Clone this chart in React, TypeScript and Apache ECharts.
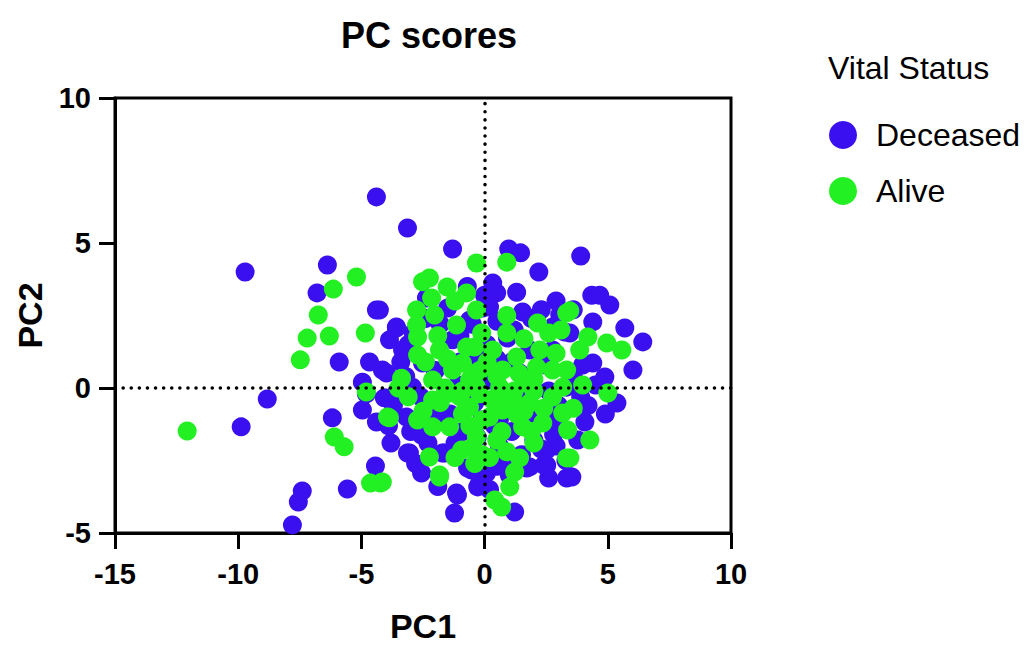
import React, { useEffect, useRef } from "react";
import * as echarts from "echarts";

const chartTitle = "PC scores";
const legendTitle = "Vital Status";
const seriesNames = ["Deceased", "Alive"];
const xTicks = { min: -15, max: 10, interval: 5 };
const yTicks = { min: -5, max: 10, interval: 5 };

const deceased: number[][] = [
  [-4.39, 6.59], [-3.13, 5.52], [-9.72, 4.0], [-6.38, 4.24], [-6.8, 3.28], [-4.39, 2.69],
  [-5.9, 0.9], [-8.82, -0.38], [-9.88, -1.34], [-6.18, -1.03], [-4.43, -2.69], [-5.57, -3.48],
  [-7.4, -3.55], [-7.56, -3.93], [-7.8, -4.72], [-3.13, -2.24], [-2.56, -2.93], [-1.14, -3.62],
  [-1.22, -4.31], [-1.63, -2.24], [-3.58, 2.1], [-3.86, 1.66], [-4.67, 0.9], [-3.98, 0.52],
  [-4.96, 0.2], [-4.96, -0.76], [-4.39, -1.17], [-4.07, -0.34], [-1.3, 4.79], [0.98, 4.79],
  [1.46, 4.66], [2.2, 4.0], [3.9, 4.55], [4.35, 3.2], [4.67, 3.2], [5.08, 2.86],
  [0.33, 3.62], [0.49, 3.28], [1.54, 2.62], [0.2, 2.79], [5.69, 2.07], [6.42, 1.59],
  [6.02, 0.62], [3.05, 2.52], [5.37, -0.52], [3.54, -3.07], [1.22, -4.28], [1.71, -2.76],
  [2.4, -2.66], [0.93, 1.72], [-0.08, 2.76], [4.39, 2.28], [3.46, 1.9], [2.76, 2.1],
  [3.25, 1.93], [4.39, 0.86], [3.98, 0.79], [4.88, 0.38], [3.33, 0.03], [3.9, -0.31],
  [2.93, -1.0], [4.07, -1.17], [3.78, -1.79], [2.52, -2.14], [2.52, -2.66], [1.83, -2.72],
  [0.89, -2.38], [3.33, -3.1], [0.08, -2.93], [-0.2, -3.28], [-0.53, -2.83], [-0.12, -1.1],
  [-1.5, 2.76], [-4.27, 2.69], [-2.36, 3.1], [-3.58, 2.07], [-0.61, 2.34], [-1.3, 1.66],
  [-3.33, 1.31], [-2.52, 0.86], [-4.15, 0.62], [-2.93, 0.03], [-1.56, -0.17], [-3.05, -2.24],
  [-1.71, -2.24], [-0.69, -2.76], [-1.1, -3.69], [-0.28, -3.41], [-2.56, -1.62], [-3.17, -1.0],
  [-0.2, 0.62], [0.2, 0.28], [1.42, 0.52], [1.95, 0.17], [2.76, 1.31], [1.83, 1.31],
  [2.2, -0.9], [1.1, -1.5], [0.6, -2.0], [-0.9, -1.5], [-2.0, 0.6], [-1.0, 0.9],
  [0.5, 1.0], [-0.4, -0.5], [1.6, -0.3], [2.6, -0.1], [3.0, -0.6], [-2.2, -0.5],
  [-3.7, -0.6], [-0.5, 2.2], [-4.8, -0.2], [1.0, -3.0], [2.0, -1.8], [-1.9, -3.4],
  [-3.4, 0.9], [-2.9, 1.9], [-1.8, 2.2], [0.1, 1.5], [1.2, 2.0], [2.3, 2.7],
  [-3.0, -1.5], [-2.3, -1.9], [-1.4, -0.9], [0.4, -1.3], [1.7, -1.1], [2.8, -1.6],
  [-0.7, 3.5], [4.9, -0.9], [3.3, -2.5], [-3.8, -1.9], [0.9, -0.6], [-1.1, 0.1],
  [-3.6, -0.2], [-3.2, 0.4], [-2.6, -0.3], [-2.0, -1.1], [-1.2, -1.9], [-0.3, -1.7],
  [0.6, -1.1], [1.5, -2.3], [2.3, -2.1], [2.9, -2.0], [0.2, -3.5], [1.9, 2.4],
  [0.5, 2.3], [-0.3, 1.1], [1.1, 0.9], [2.4, 0.8], [3.6, 0.4], [4.2, -0.6],
  [-2.4, 2.4], [-3.1, 1.5], [-1.0, 1.8], [0.0, 3.2], [1.3, 3.3], [3.6, 2.7],
  [2.9, 3.0], [-3.9, -1.3], [-2.8, -2.6], [0.5, -2.7], [2.6, -3.1], [4.5, 0.1],
];

const alive: number[][] = [
  [-12.07, -1.48], [-7.48, 0.97], [-7.2, 1.72], [-6.75, 2.52], [-6.3, 1.79], [-4.84, 1.9],
  [-6.1, -1.69], [-5.7, -2.03], [-4.63, -3.28], [-4.23, -3.28], [-4.8, -0.14], [-3.94, -1.0],
  [-2.24, -2.38], [-1.83, -3.0], [-6.14, 3.41], [-5.2, 3.83], [-0.33, 4.31], [-2.52, 3.66],
  [-2.24, 3.79], [-1.52, 3.48], [-0.73, 3.28], [-2.15, 3.1], [-2.76, 2.69], [-2.03, 2.52],
  [-2.76, 2.17], [-1.14, 2.17], [-2.72, 1.76], [-1.83, 1.31], [-2.72, 1.14], [-0.73, 1.41],
  [-3.37, 0.34], [-2.11, 0.28], [-1.3, 0.62], [-0.61, 0.28], [-0.9, 0.86], [0.9, 4.34],
  [-0.33, 2.69], [-0.12, 1.9], [-0.41, 1.41], [0.33, 1.31], [1.3, 1.07], [2.24, 1.31],
  [2.15, 2.24], [3.33, 2.59], [3.46, 2.66], [2.11, 0.72], [2.76, 0.62], [0.73, 0.62],
  [-0.33, 0.03], [0.61, 0.03], [1.71, 0.17], [3.17, 0.03], [4.19, 1.76], [3.86, 1.31],
  [4.96, 1.55], [5.57, 1.31], [3.33, 0.62], [3.98, 0.1], [5.0, -0.17], [-3.86, -1.03],
  [-2.11, -0.41], [-1.42, -0.17], [-0.61, -0.66], [-2.72, -1.1], [-2.11, -1.34], [-1.42, -1.34],
  [-0.93, -2.14], [-0.49, -2.03], [-1.83, -3.07], [-4.15, -3.24], [0.73, -0.76], [1.83, -0.52],
  [2.76, -0.31], [3.17, -0.86], [-0.33, -1.69], [0.49, -1.79], [1.54, -1.34], [2.36, -1.21],
  [1.42, -2.41], [3.33, -2.41], [1.22, -2.9], [1.02, -3.41], [0.41, -3.86], [0.69, -4.1],
  [3.37, -1.45], [4.27, -1.79], [3.46, -2.41], [1.0, -0.3], [-0.1, -1.1], [0.3, -0.4],
  [1.4, 0.5], [0.9, 1.9], [-1.6, 0.0], [2.0, -1.9], [1.3, -0.9], [-0.4, -2.6],
  [2.6, 1.9], [3.1, 2.0], [-1.2, 3.0], [-3.5, 0.0], [-0.9, -0.9], [0.2, -2.4],
  [-1.8, -0.5], [-1.0, -0.3], [-0.2, -0.2], [0.5, 0.4], [1.2, -0.1], [2.0, 0.3],
  [2.4, -0.7], [1.6, -0.8], [0.1, 0.9], [-0.5, 0.5], [-1.5, 1.0], [-2.4, 0.9],
  [-3.1, -0.3], [-2.5, -0.8], [-1.2, -2.4], [-0.1, -2.3], [0.9, -2.2], [0.7, -1.5],
  [1.9, -1.5], [-0.6, -1.3], [1.6, 1.7], [2.9, 1.2], [2.0, -0.1], [-0.2, 0.6],
  [0.9, 2.5], [-1.9, 1.8], [1.2, -0.5], [3.6, -0.7], [-0.9, -0.1], [0.2, -1.0],
];

const BLUE = "#3b10f0";
const GREEN = "#22f022";
const FONT = "Liberation Sans, Arial, sans-serif";

export default function App() {
  const ref = useRef<HTMLDivElement>(null);
  useEffect(() => {
    document.body.style.margin = "0";
    if (!ref.current) return;
    const chart = echarts.init(ref.current, undefined, { renderer: "svg" });
    chart.setOption({
      animation: false,
      backgroundColor: "#fff",
      textStyle: { fontFamily: FONT },
      title: {
        text: chartTitle,
        left: 424,
        top: 12,
        textAlign: "center",
        textStyle: { fontSize: 36, fontWeight: "bold", color: "#000", fontFamily: FONT },
      },
      graphic: [
        {
          type: "text",
          left: 828,
          top: 52,
          style: { text: legendTitle, fontSize: 32, fill: "#000", fontFamily: FONT },
        },
      ],
      legend: {
        orient: "vertical",
        left: 824,
        top: 114,
        itemWidth: 28,
        itemHeight: 28,
        itemGap: 24,
        icon: "circle",
        data: seriesNames,
        textStyle: { fontSize: 32, color: "#000", fontFamily: FONT, padding: [0, 0, 0, 14] },
      },
      grid: {
        left: 115,
        right: 303,
        top: 98,
        bottom: 115,
        show: true,
        borderColor: "#000",
        borderWidth: 3,
      },
      xAxis: {
        type: "value",
        min: xTicks.min,
        max: xTicks.max,
        interval: xTicks.interval,
        name: "PC1",
        nameLocation: "middle",
        nameGap: 76,
        nameTextStyle: { fontSize: 34, fontWeight: "bold", color: "#000", fontFamily: FONT },
        axisLine: { onZero: false, lineStyle: { color: "#000", width: 3 } },
        axisTick: { show: true, length: 16, lineStyle: { width: 3, color: "#000" } },
        axisLabel: { fontSize: 29, fontWeight: "bold", color: "#000", margin: 26, fontFamily: FONT },
        splitLine: { show: false },
      },
      yAxis: {
        type: "value",
        min: yTicks.min,
        max: yTicks.max,
        interval: yTicks.interval,
        name: "PC2",
        nameLocation: "middle",
        nameGap: 68,
        nameRotate: 90,
        nameTextStyle: { fontSize: 34, fontWeight: "bold", color: "#000", fontFamily: FONT },
        axisLine: { onZero: false, lineStyle: { color: "#000", width: 3 } },
        axisTick: { show: true, length: 16, lineStyle: { width: 3, color: "#000" } },
        axisLabel: { fontSize: 29, fontWeight: "bold", color: "#000", margin: 24, fontFamily: FONT },
        splitLine: { show: false },
      },
      series: [
        {
          name: "refLines",
          type: "scatter",
          data: [],
          z: 1,
          silent: true,
          markLine: {
            silent: true,
            symbol: "none",
            label: { show: false },
            lineStyle: { color: "#000", width: 3.5, type: [0.1, 8], cap: "round" },
            data: [{ xAxis: 0 }, { yAxis: 0 }],
          },
        },
        {
          name: seriesNames[0],
          type: "scatter",
          data: deceased,
          symbolSize: 19,
          itemStyle: { color: BLUE, opacity: 1 },
          z: 3,
        },
        {
          name: seriesNames[1],
          type: "scatter",
          data: alive,
          symbolSize: 19,
          itemStyle: { color: GREEN, opacity: 1 },
          z: 4,
        },
      ],
    });
    return () => chart.dispose();
  }, []);
  return <div ref={ref} style={{ width: 1034, height: 648 }} />;
}
